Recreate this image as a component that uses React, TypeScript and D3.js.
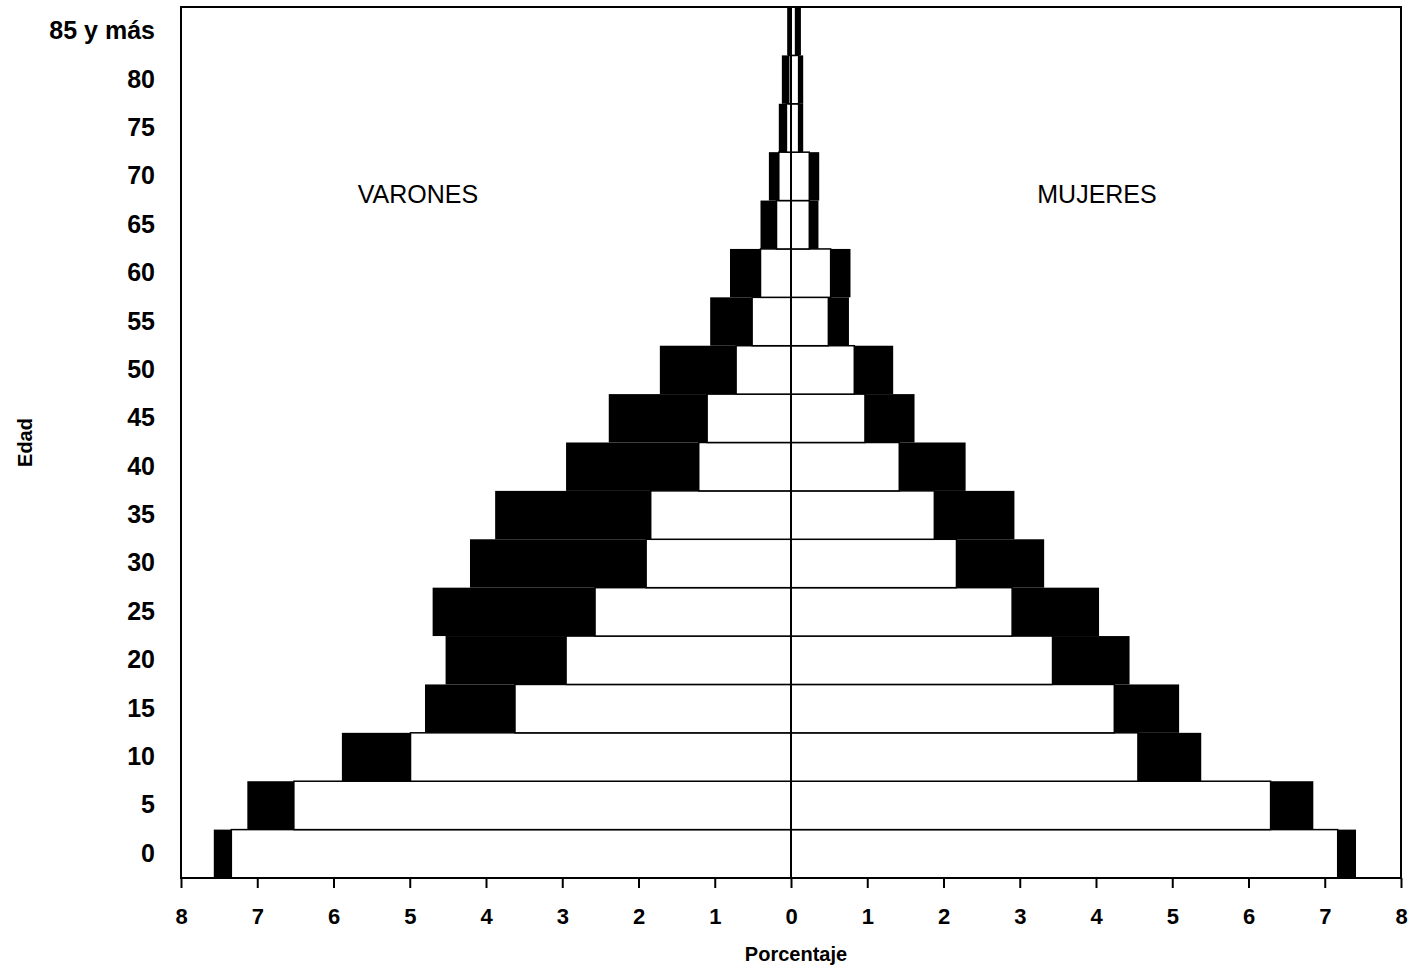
import React, { useEffect, useRef } from "react";
import * as d3 from "d3";

// grupos de edad, de abajo hacia arriba
const ageGroups = ["0", "5", "10", "15", "20", "25", "30", "35", "40", "45", "50", "55", "60", "65", "70", "75", "80", "85 y más"];

// barras negras (exteriores) y blancas (interiores), en porcentaje
const varonesNegro = [7.57, 7.13, 5.89, 4.8, 4.53, 4.7, 4.21, 3.88, 2.95, 2.39, 1.72, 1.06, 0.8, 0.4, 0.29, 0.16, 0.12, 0.05];
const varonesBlanco = [7.34, 6.52, 4.99, 3.62, 2.95, 2.57, 1.9, 1.84, 1.21, 1.1, 0.72, 0.51, 0.4, 0.19, 0.16, 0.06, 0.03, 0.02];
const mujeresBlanco = [7.17, 6.29, 4.55, 4.24, 3.43, 2.9, 2.17, 1.88, 1.42, 0.97, 0.83, 0.49, 0.52, 0.24, 0.24, 0.1, 0.1, 0.06];
const mujeresNegro = [7.41, 6.85, 5.38, 5.09, 4.44, 4.04, 3.32, 2.93, 2.29, 1.62, 1.34, 0.76, 0.78, 0.36, 0.37, 0.16, 0.16, 0.13];

const xTicks = [-8, -7, -6, -5, -4, -3, -2, -1, 0, 1, 2, 3, 4, 5, 6, 7, 8];

const W = 1417;
const H = 970;
const font = "'Liberation Sans', Arial, Helvetica, sans-serif";

const App: React.FC = () => {
	const svgRef = useRef<SVGSVGElement | any>();

	useEffect(() => {
		const svg = d3.select(svgRef.current);
		svg.selectAll("*").remove();

		const left = 181;
		const right = 1401;
		const top = 7;
		const bottom = 878;

		const x = d3.scaleLinear().domain([-8, 8]).range([left, right]);
		const y = d3.scaleBand<string>().domain(ageGroups).range([bottom, top]).padding(0);

		const rows = ageGroups.map((age, i) => ({
			age,
			vN: varonesNegro[i],
			vB: varonesBlanco[i],
			mB: mujeresBlanco[i],
			mN: mujeresNegro[i],
		}));

		const g = svg.append("g");

		// barras negras
		g.selectAll(".vn")
			.data(rows)
			.join("rect")
			.attr("x", (d) => x(-d.vN))
			.attr("y", (d) => y(d.age)!)
			.attr("width", (d) => x(0) - x(-d.vN))
			.attr("height", y.bandwidth())
			.attr("fill", "#000");
		g.selectAll(".mn")
			.data(rows)
			.join("rect")
			.attr("x", x(0))
			.attr("y", (d) => y(d.age)!)
			.attr("width", (d) => x(d.mN) - x(0))
			.attr("height", y.bandwidth())
			.attr("fill", "#000");

		// barras blancas
		g.selectAll(".vb")
			.data(rows)
			.join("rect")
			.attr("x", (d) => x(-d.vB))
			.attr("y", (d) => y(d.age)!)
			.attr("width", (d) => x(0) - x(-d.vB))
			.attr("height", y.bandwidth())
			.attr("fill", "#fff")
			.attr("stroke", "#000")
			.attr("stroke-width", 1.5);
		g.selectAll(".mb")
			.data(rows)
			.join("rect")
			.attr("x", x(0))
			.attr("y", (d) => y(d.age)!)
			.attr("width", (d) => x(d.mB) - x(0))
			.attr("height", y.bandwidth())
			.attr("fill", "#fff")
			.attr("stroke", "#000")
			.attr("stroke-width", 1.5);

		// linea del cero
		svg.append("line")
			.attr("x1", x(0))
			.attr("x2", x(0))
			.attr("y1", top)
			.attr("y2", bottom)
			.attr("stroke", "#000")
			.attr("stroke-width", 2);

		// marco
		svg.append("rect")
			.attr("x", left)
			.attr("y", top)
			.attr("width", right - left)
			.attr("height", bottom - top)
			.attr("fill", "none")
			.attr("stroke", "#000")
			.attr("stroke-width", 2);

		// eje x
		const xAxis: any = d3
			.axisBottom(x)
			.tickValues(xTicks)
			.tickSize(10)
			.tickPadding(20)
			.tickFormat((v: any) => String(Math.abs(v)));
		const xa = svg.append("g").attr("transform", `translate(0,${bottom})`).call(xAxis);
		xa.select(".domain").remove();
		xa.selectAll(".tick line").attr("stroke", "#000").attr("stroke-width", 2);
		xa.selectAll(".tick text")
			.attr("font-family", font)
			.attr("font-size", 22)
			.attr("font-weight", "bold")
			.attr("fill", "#000");

		// eje y
		const yAxis: any = d3.axisLeft(y).tickSize(0).tickPadding(26);
		const ya = svg.append("g").attr("transform", `translate(${left},0)`).call(yAxis);
		ya.select(".domain").remove();
		ya.selectAll(".tick text")
			.attr("font-family", font)
			.attr("font-size", 25)
			.attr("font-weight", "bold")
			.attr("fill", "#000");

		// titulos
		svg.append("text")
			.attr("x", (left + right) / 2 + 5)
			.attr("y", 961)
			.attr("text-anchor", "middle")
			.attr("font-family", font)
			.attr("font-size", 20)
			.attr("font-weight", "bold")
			.text("Porcentaje");

		svg.append("text")
			.attr("transform", `translate(32,${(top + bottom) / 2}) rotate(-90)`)
			.attr("text-anchor", "middle")
			.attr("font-family", font)
			.attr("font-size", 20)
			.attr("font-weight", "bold")
			.text("Edad");

		svg.append("text")
			.attr("x", 418)
			.attr("y", 203)
			.attr("text-anchor", "middle")
			.attr("font-family", font)
			.attr("font-size", 25)
			.text("VARONES");

		svg.append("text")
			.attr("x", 1097)
			.attr("y", 203)
			.attr("text-anchor", "middle")
			.attr("font-family", font)
			.attr("font-size", 25)
			.text("MUJERES");
	}, []);

	return (
		<svg
			ref={svgRef}
			width={W}
			height={H}
			style={{ position: "absolute", left: 0, top: 0, background: "#fff" }}
		/>
	);
};

export default App;
